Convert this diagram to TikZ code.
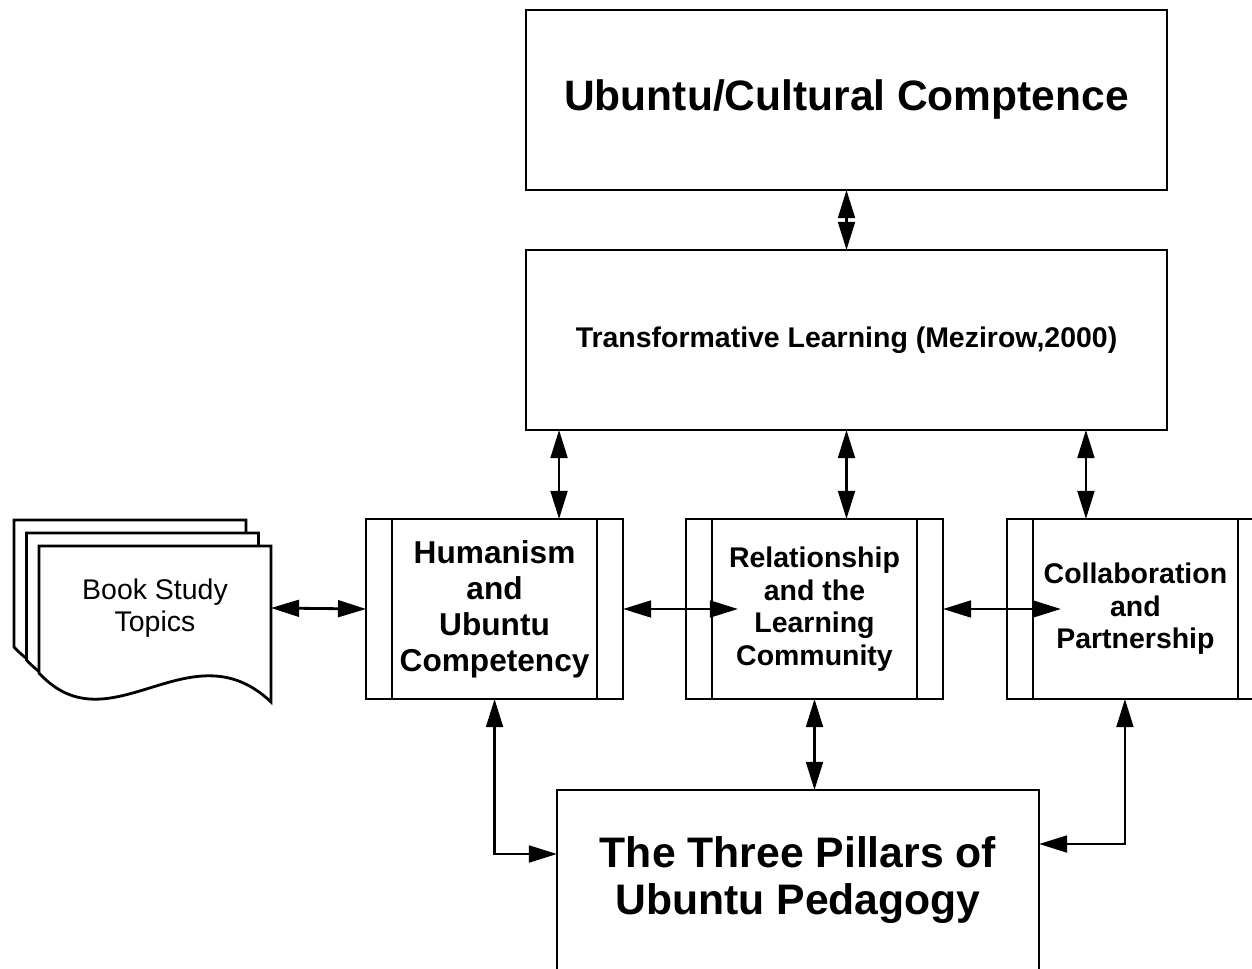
\documentclass[tikz,border=0pt]{standalone}
\usepackage{fontspec}
\setmainfont{Liberation Sans}
\usetikzlibrary{arrows.meta,positioning,calc}
\tikzstyle{link}=[<->,>={Triangle[length=16pt,width=9.5pt]},line width=1.6pt]
\tikzstyle{block}=[draw,line width=1.6pt,outer sep=0pt,fill=white,align=center,font=\bfseries]
\tikzstyle{pillar}=[block,minimum width=5.14cm,minimum height=3.6cm,
  path picture={\draw[line width=1.6pt]
    ([xshift=0.52cm]path picture bounding box.north west) -- ([xshift=0.52cm]path picture bounding box.south west)
    ([xshift=-0.52cm]path picture bounding box.north east) -- ([xshift=-0.52cm]path picture bounding box.south east);}]
\tikzstyle{page}=[line width=1.6pt,fill=white]

\begin{document}
\begin{tikzpicture}[x=0.02cm,y=-0.02cm]
            \clip (0,0) rectangle (1252,969);
            \node (top) [block,minimum width=12.82cm,minimum height=3.6cm,font=\fontsize{24.2}{29}\selectfont\bfseries] at (846.5,100) {Ubuntu/Cultural Comptence};
            \node (trans) [block,minimum width=12.82cm,minimum height=3.6cm,font=\fontsize{16.2}{19}\selectfont\bfseries] [below=1.2cm of top] {Transformative Learning (Mezirow,2000)};
            \node (rel) [pillar,font=\fontsize{16.2}{18.5}\selectfont\bfseries] at (814.5,609) {Relationship\\and the\\Learning\\Community};
            \node (hum) [pillar,font=\fontsize{18}{20.5}\selectfont\bfseries] [left=1.26cm of rel] {Humanism\\and\\Ubuntu\\Competency};
            \node (col) [pillar,font=\fontsize{16.2}{18.5}\selectfont\bfseries] [right=1.28cm of rel] {Collaboration\\and\\Partnership};
            \node (bot) [block,minimum width=9.64cm,minimum height=3.6cm,font=\fontsize{24.3}{26.7}\selectfont\bfseries] at (798,880) {The Three Pillars of\\Ubuntu Pedagogy};

            % stacked pages
            \foreach \s in {2,1,0}
              \filldraw[page,shift={(-12.5*\s,-13*\s)}] (39,673) -- (39,546) -- (271,546) -- (271,702)
                .. controls (190,625) and (110,750) .. (39,673) -- cycle;
            \node (book) [align=center,outer sep=0pt,minimum width=4.64cm,minimum height=2.48cm,font=\fontsize{16.2}{18.2}\selectfont] at (155,608) {Book Study\\Topics};

            \path[link] (top) edge (trans);
            \draw[link] ([xshift=1.29cm]hum.north) coordinate (h1) -- (h1 |- trans.south);
            \draw[link] (trans.south) -- (trans.south |- rel.north);
            \draw[link] ([xshift=-0.99cm]col.north) coordinate (c1) -- (c1 |- trans.south);

            \draw[link] (book.east) -- (hum.west);
            \draw[link] (hum.east) -- ([xshift=1.04cm]rel.west);
            \draw[link] (rel.east) -- ([xshift=1.08cm]col.west);

            \draw[link] (hum.south) |- ([yshift=0.52cm]bot.west);
            \draw[link] (rel.south) -- (rel.south |- bot.north);
            \draw[link] ([xshift=-0.21cm]col.south) |- ([yshift=0.72cm]bot.east);
\end{tikzpicture}
\end{document}
